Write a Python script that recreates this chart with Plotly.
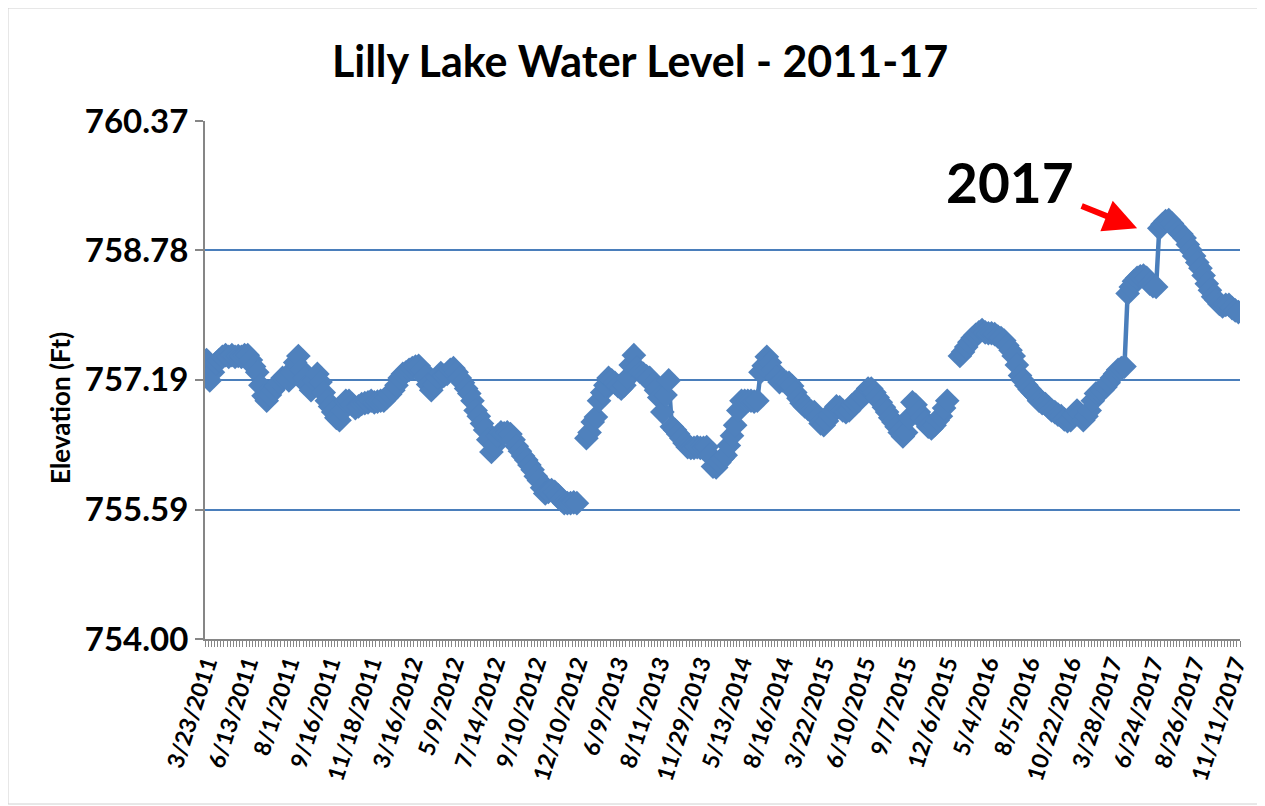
import plotly.graph_objects as go

# Category axis (one category per measurement); labels shown every 13 categories
tick_labels = ["3/23/2011", "6/13/2011", "8/1/2011", "9/16/2011", "11/18/2011", "3/16/2012",
               "5/9/2012", "7/14/2012", "9/10/2012", "12/10/2012", "6/9/2013", "8/11/2013",
               "11/29/2013", "5/13/2014", "8/16/2014", "3/22/2015", "6/10/2015", "9/7/2015",
               "12/6/2015", "5/4/2016", "8/5/2016", "10/22/2016", "3/28/2017", "6/24/2017",
               "8/26/2017", "11/11/2017"]
label_step = 13

# Lake elevation (ft) per category; None = no reading (gap in the line)
levels = [
    757.43, 757.18, 757.28, 757.39, 757.43, 757.47, 757.49, 757.47, 757.49, 757.47, 757.48, 757.47, 757.49,
    757.49, 757.43, 757.35, 757.28, 757.12, 756.99, 756.93, 757.00, 757.06, 757.11, 757.16, 757.21, 757.22,
    757.18, 757.28, 757.40, 757.48, 757.31, 757.21, 757.12, 757.06, 757.18, 757.26, 757.16, 757.03, 756.93,
    756.86, 756.79, 756.72, 756.69, 756.81, 756.93, 756.93, 756.88, 756.84, 756.86, 756.89, 756.90, 756.91,
    756.93, 756.91, 756.92, 756.93, 756.93, 756.97, 757.01, 757.06, 757.12, 757.21, 757.26, 757.28, 757.31,
    757.33, 757.35, 757.36, 757.31, 757.22, 757.13, 757.06, 757.13, 757.22, 757.27, 757.24, 757.26, 757.31,
    757.33, 757.28, 757.21, 757.15, 757.08, 757.02, 756.93, 756.81, 756.74, 756.65, 756.57, 756.45, 756.30,
    756.38, 756.50, 756.54, 756.53, 756.54, 756.52, 756.45, 756.37, 756.31, 756.25, 756.20, 756.14, 756.08,
    756.00, 755.95, 755.86, 755.79, 755.81, 755.83, 755.81, 755.77, 755.71, 755.67, 755.67, 755.67, 755.68,
    755.67, None, None, 756.47, 756.54, 756.67, 756.73, 756.93, 757.03, 757.12, 757.21, 757.18, 757.15,
    757.11, 757.08, 757.12, 757.21, 757.37, 757.49, 757.33, 757.28, 757.26, 757.23, 757.21, 757.13, 757.06,
    756.97, 756.79, 757.00, 757.18, 756.61, 756.57, 756.52, 756.47, 756.41, 756.36, 756.35, 756.35, 756.36,
    756.35, 756.35, 756.36, 756.26, 756.12, 756.11, 756.17, 756.22, 756.26, 756.38, 756.50, 756.63, 756.81,
    756.93, 756.93, 756.93, 756.93, 756.92, 756.93, 757.28, 757.36, 757.47, 757.40, 757.31, 757.22, 757.16,
    757.18, 757.16, 757.15, 757.11, 757.03, 756.96, 756.90, 756.86, 756.83, 756.80, 756.79, 756.72, 756.65,
    756.63, 756.68, 756.75, 756.81, 756.86, 756.85, 756.81, 756.79, 756.81, 756.88, 756.91, 756.93, 756.99,
    757.03, 757.08, 757.08, 757.03, 756.97, 756.91, 756.85, 756.79, 756.72, 756.67, 756.61, 756.54, 756.49,
    756.54, 756.72, 756.91, 756.88, 756.79, 756.72, 756.67, 756.61, 756.59, 756.63, 756.69, 756.74, 756.84,
    756.93, None, None, None, 757.48, 757.53, 757.59, 757.65, 757.70, 757.74, 757.77, 757.80, 757.77,
    757.76, 757.76, 757.75, 757.72, 757.70, 757.67, 757.61, 757.55, 757.48, 757.37, 757.24, 757.18, 757.12,
    757.07, 757.03, 756.99, 756.93, 756.90, 756.89, 756.85, 756.81, 756.79, 756.76, 756.74, 756.70, 756.68,
    756.69, 756.75, 756.81, 756.77, 756.69, 756.74, 756.81, 756.93, 757.02, 757.04, 757.06, 757.10, 757.15,
    757.21, 757.26, 757.31, 757.33, 757.35, 758.25, 758.33, 758.40, 758.44, 758.46, 758.47, 758.44, 758.37,
    758.34, 758.33, 759.05, 759.10, 759.14, 759.15, 759.11, 759.06, 759.01, 758.98, 758.93, 758.85, 758.78,
    758.71, 758.63, 758.56, 758.47, 758.37, 758.29, 758.21, 758.17, 758.12, 758.09, 758.11, 758.11, 758.07,
    758.04, 758.02,
]

y_ticks = [754.00, 755.59, 757.19, 758.78, 760.37]
y_tick_text = ["754.00", "755.59", "757.19", "758.78", "760.37"]

annotation_text = "2017"
arrow_index = 294
arrow_level = 759.05

x = list(range(len(levels)))
label_pos = [i * label_step for i in range(len(tick_labels))]

FONT = "Lato"
BLUE = "#4A7EBB"
MARK = "#4F81BD"

# page body has an 8px margin, so the figure is sized/offset to compensate
W, H = 1257, 798
L, T, PW, PH = 197, 113, 1035, 518

fig = go.Figure()
fig.add_trace(go.Scatter(
    x=x, y=levels, mode="lines+markers",
    line=dict(color=BLUE, width=4.5),
    marker=dict(symbol="diamond", size=19, color=MARK, line=dict(width=0)),
    connectgaps=False, showlegend=False, hoverinfo="y",
))

fig.add_annotation(x=253.8, y=759.62, xref="x", yref="y", text=annotation_text,
                   showarrow=False, font=dict(family=FONT, size=55, color="black", weight="bold"))
fig.add_annotation(x=arrow_index, y=arrow_level, xref="x", yref="y", text="",
                   showarrow=True, ax=-57, ay=-23, arrowcolor="#FF0000", arrowwidth=6,
                   arrowhead=2, arrowsize=1.1)
# y-axis title
fig.add_annotation(x=(60 - 205) / PW, y=(639 - 408) / PH, xref="paper", yref="paper",
                   text="<b>Elevation (Ft)</b>", textangle=-90, showarrow=False,
                   xanchor="center", yanchor="middle",
                   font=dict(family=FONT, size=26, color="black"))

fig.update_layout(
    width=W, height=H,
    margin=dict(l=L, r=W - L - PW, t=T, b=H - T - PH),
    paper_bgcolor="white", plot_bgcolor="white",
    title=dict(text="<b>Lilly Lake Water Level - 2011-17</b>", x=(640 - 8) / W, xanchor="center",
               y=1 - 54 / H, yanchor="middle", yref="container",
               font=dict(family=FONT, size=43, color="black")),
    xaxis=dict(range=[-0.5, len(levels) - 0.5], tickmode="array", tickvals=label_pos,
               ticktext=tick_labels, tickangle=-72, ticks="",
               tickfont=dict(family=FONT, size=23, color="black", weight="bold"),
               showline=True, linecolor="#868686", linewidth=2, showgrid=False, zeroline=False,
               minor=dict(tickmode="linear", tick0=-0.5, dtick=1, ticks="outside", ticklen=6,
                          tickcolor="#868686", tickwidth=1, showgrid=False)),
    yaxis=dict(range=[754.0, 760.37], tickmode="array", tickvals=y_ticks, ticktext=y_tick_text,
               ticks="outside", ticklen=8, tickcolor="#868686", tickwidth=2,
               tickfont=dict(family=FONT, size=33, color="black", weight="bold"),
               showline=True, linecolor="#868686", linewidth=2,
               showgrid=True, gridcolor=BLUE, gridwidth=1.5, zeroline=False),
)

fig.add_shape(type="rect", xref="paper", yref="paper",
              x0=-L / PW, x1=(W - L - 2) / PW,
              y0=-(H - T - PH - 2) / PH, y1=T / PH + 1,
              line=dict(color="#D0D0D0", width=1), layer="below")

fig.write_html("out.html")
